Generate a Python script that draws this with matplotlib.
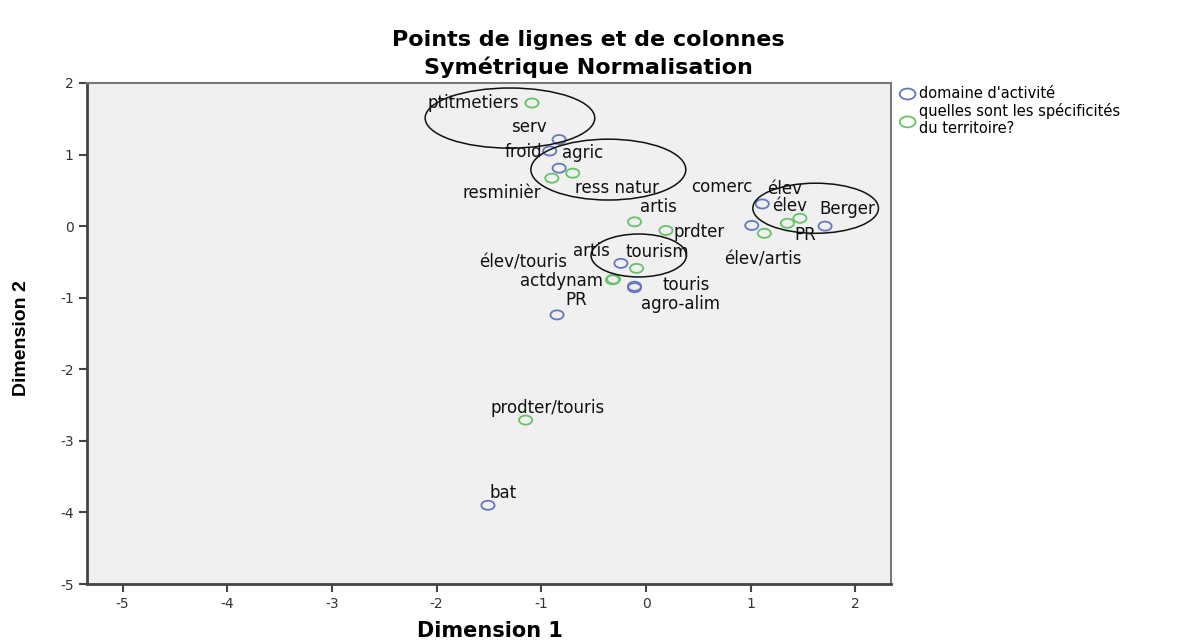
import matplotlib

matplotlib.use("Agg")
import matplotlib.pyplot as plt
from matplotlib.patches import Ellipse
from matplotlib.path import Path
from matplotlib.transforms import Affine2D

# ─── Data (coordinates) ───────────────────────────────────────────────
blue_labels = ["serv", "froid", "agric", "comerc", "élev", "Berger",
               "artis", "touris", "agro-alim", "PR", "bat"]
blue_x = [-0.83, -0.92, -0.83, 1.11, 1.01, 1.71, -0.24, -0.11, -0.11, -0.85, -1.51]
blue_y = [1.21, 1.05, 0.81, 0.31, 0.01, 0.00, -0.52, -0.84, -0.86, -1.24, -3.90]

green_labels = ["ptitmetiers", "resminièr", "ress natur", "artis", "prdter",
                "tourism", "élev/touris", "actdynam", "élev", "élev/artis",
                "PR", "prodter/touris"]
green_x = [-1.09, -0.90, -0.70, -0.11, 0.19, -0.09, -0.31, -0.32, 1.35, 1.13, 1.47, -1.15]
green_y = [1.72, 0.67, 0.74, 0.06, -0.06, -0.59, -0.74, -0.75, 0.04, -0.10, 0.11, -2.71]

# label offsets (points) so the text lands where SPSS put it
blue_off = [(-22, 9), (-19, -1), (17, 11), (-29, 12), (27, 14), (16, 12),
            (-21, 9), (37, 1), (33, -12), (14, 11), (11, 9)]
green_off = [(-42, 0), (-36, -11), (32, -11), (17, 11), (24, -1), (15, 12),
             (-65, 12), (-37, -1), (-2, 25), (-1, -19), (4, -12), (16, 9)]

# hand-drawn groupings: (cx, cy, width, height)
groups = [(-1.30, 1.51, 1.62, 0.84), (-0.36, 0.79, 1.48, 0.85),
          (-0.07, -0.41, 0.91, 0.60), (1.62, 0.25, 1.20, 0.70)]

BLUE = "#6677C0"
GREEN = "#66C466"

plt.rcParams["font.family"] = ["DejaVu Sans"]
plt.rcParams["axes.unicode_minus"] = False

# the source chart is stretched sideways, so are its circles
oval = Path.unit_circle().transformed(Affine2D().scale(1.45, 1.0))

fig = plt.figure(figsize=(11.85, 6.41), dpi=100)
ax = fig.add_axes([87 / 1185, 1 - 584 / 641, (891 - 87) / 1185, (584 - 83) / 641])
ax.set_facecolor("#F0F0F0")

ax.scatter(blue_x, blue_y, s=90, marker=oval, facecolors="none", edgecolors=BLUE,
           linewidths=1.3, label="domaine d'activité", zorder=3)
ax.scatter(green_x, green_y, s=90, marker=oval, facecolors="none", edgecolors=GREEN,
           linewidths=1.3, label="quelles sont les spécificités\ndu territoire?", zorder=3)

for lab, x, y, off in zip(blue_labels, blue_x, blue_y, blue_off):
    ax.annotate(lab, (x, y), xytext=off, textcoords="offset points",
                ha="center", va="center", fontsize=12, color="#111111")
for lab, x, y, off in zip(green_labels, green_x, green_y, green_off):
    ax.annotate(lab, (x, y), xytext=off, textcoords="offset points",
                ha="center", va="center", fontsize=12, color="#111111")

for cx, cy, w, h in groups:
    ax.add_patch(Ellipse((cx, cy), w, h, fill=False, edgecolor="#111111",
                         linewidth=1.1, zorder=4))

ax.set_xlim(-5.34, 2.34)
ax.set_ylim(-5, 2)
ax.set_xticks(range(-5, 3))
ax.set_yticks(range(-5, 3))
ax.tick_params(direction="out", length=6, width=1.5, color="#444444",
               labelsize=10, labelcolor="#333333")
for side in ("left", "bottom"):
    ax.spines[side].set_linewidth(2)
    ax.spines[side].set_color("#444444")
for side in ("top", "right"):
    ax.spines[side].set_linewidth(1.5)
    ax.spines[side].set_color("#777777")

fig.text(588 / 1185, 1 - 40 / 641, "Points de lignes et de colonnes",
         ha="center", va="center", fontsize=16, fontweight="bold")
fig.text(588 / 1185, 1 - 67 / 641, "Symétrique Normalisation",
         ha="center", va="center", fontsize=16, fontweight="bold")
fig.text(490 / 1185, 1 - 631 / 641, "Dimension 1", ha="center", va="center",
         fontsize=15, fontweight="bold")
fig.text(22 / 1185, 1 - 338 / 641, "Dimension 2", ha="center", va="center",
         rotation=90, fontsize=14, fontweight="bold",
         family=["Liberation Sans", "DejaVu Sans"])

fig.legend(loc="upper left", bbox_to_anchor=(893 / 1185, 1 - 80 / 641),
           frameon=False, fontsize=10.5, handletextpad=0.2, markerscale=1.2,
           labelspacing=0.15, borderaxespad=0, handlelength=1.2)

fig.savefig("out.png", dpi=100)
